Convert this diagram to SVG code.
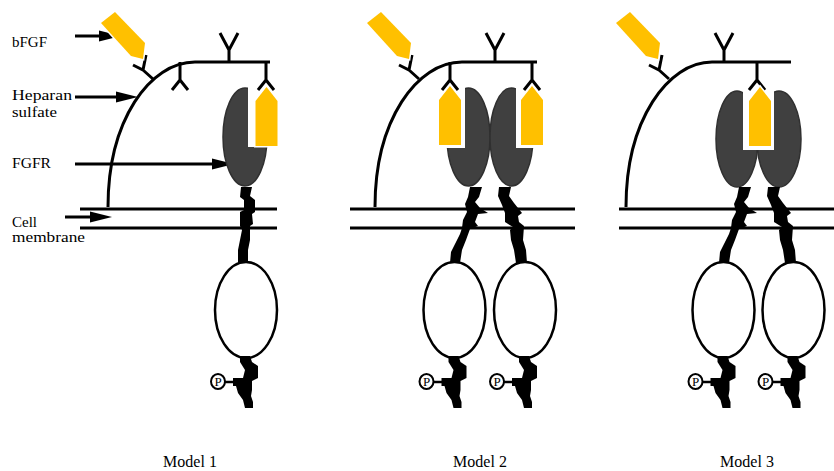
<svg xmlns="http://www.w3.org/2000/svg" width="834" height="471" viewBox="0 0 834 471">
  <style>
    .ln { fill: none; stroke: #000; stroke-width: 3; stroke-linejoin: miter; }
    .mem { stroke: #000; stroke-width: 3; }
    .fgf { fill: #FFC000; stroke: #fff; stroke-width: 3; paint-order: stroke; }
    .rcp { fill: #404040; stroke: #303030; stroke-width: 1.5; }
    .cut { fill: #fff; }
    .cyto { fill: #fff; stroke: #000; stroke-width: 2.5; }
    .chain { fill: #000; }
    .pc { fill: #fff; stroke: #000; stroke-width: 2; }
    .plink { stroke: #000; stroke-width: 2.5; }
    .ptxt { font-family: "Liberation Serif", serif; font-size: 13px; fill: #000; text-anchor: middle; }
    .lbl { font-family: "Liberation Serif", serif; font-size: 15px; fill: #000; }
    .mdl { font-family: "Liberation Serif", serif; font-size: 16px; fill: #000; text-anchor: middle; }
    .arr { fill: none; stroke: #000; stroke-width: 3; }
  </style>
  <defs>
    <marker id="head" markerUnits="userSpaceOnUse" markerWidth="24" markerHeight="12" refX="12" refY="6" orient="auto">
      <path d="M0,0.5 L22,6 L0,11.5 z" fill="#000"/>
    </marker>
    <!-- heparan sulfate side chains -->
    <path id="y-up" class="ln" d="M-9,-29 L0,-12 L9,-29 M0,-12 V0"/>
    <path id="y-down" class="ln" d="M0,0 V18 M-8,28 L0,18 L8,28"/>
    <path id="y-side" class="ln" d="M133,65 L143,70 L146,55 M143,70 L153,79"/>
    <!-- bFGF: free and bound -->
    <polygon id="fgf-free" class="fgf" points="101,23 115,12 145,43 143,59 131,56"/>
    <polygon id="fgf-up" class="fgf" points="0,-14 11,0 11,45 -11,45 -11,0"/>
    <!-- intracellular kinase domain with phosphorylated tail -->
    <g id="cyto">
      <ellipse class="cyto" cx="0" cy="310" rx="31" ry="48"/>
      <polygon class="chain" points="-6,356 4,356 6,362 12,366 12,378 6,381 6,390 5,396 7,402 7,408 -1,408 -3,400 -8,393 -10,386 -13,386 -13,378 -3,378 -1,370 -6,362"/>
      <line class="plink" x1="-21" y1="382" x2="-12" y2="382"/>
      <ellipse class="pc" cx="-28" cy="381.5" rx="7" ry="7.5"/>
      <text class="ptxt" x="-28" y="386">P</text>
    </g>
    <!-- transmembrane segments of a dimer -->
    <g id="tm-pair">
      <polygon class="chain" points="482,187 479,197 475,202 480,208 488,213 478,214 475,222 478,226 470,229 466,240 462,250 460,263 450,263 451,252 455,244 460,234 462,228 463,220 467,212 465,204 468,197 470,187"/>
      <polygon class="chain" points="511,187 509,196 514,203 522,213 518,216 519,222 524,226 523,240 526,250 527,263 516,263 514,250 511,240 510,230 513,227 505,222 505,213 502,205 498,196 499,187"/>
    </g>
  </defs>

  <!-- label pointers -->
  <g id="connectors">
    <path class="arr" d="M75,36 H111" marker-end="url(#head)"/>
    <path class="arr" d="M75,97 H128" marker-end="url(#head)"/>
    <path class="arr" d="M75,164 H224" marker-end="url(#head)"/>
    <path class="arr" d="M65,217 H102" marker-end="url(#head)"/>
  </g>

  <g id="labels">
    <text class="lbl" x="12" y="46.5">bFGF</text>
    <text class="lbl" x="12" y="100" textLength="60" lengthAdjust="spacingAndGlyphs">Heparan</text>
    <text class="lbl" x="12" y="117" textLength="45" lengthAdjust="spacingAndGlyphs">sulfate</text>
    <text class="lbl" x="12" y="168" textLength="39" lengthAdjust="spacingAndGlyphs">FGFR</text>
    <text class="lbl" x="12" y="227">Cell</text>
    <text class="lbl" x="12" y="241.5" textLength="73" lengthAdjust="spacingAndGlyphs">membrane</text>
  </g>

  <!-- Model 1: monomeric receptor -->
  <g id="model1">
    <g id="m1-membrane">
      <line class="mem" x1="80" y1="209" x2="277" y2="209"/>
      <line class="mem" x1="80" y1="228" x2="277" y2="228"/>
    </g>
    <g id="m1-heparan">
      <path class="ln" d="M108,207 C108,120 150,62 195,62 H270"/>
      <use href="#y-up" x="229" y="62"/>
      <use href="#y-down" x="180" y="62"/>
      <use href="#y-side"/>
    </g>
    <g id="m1-receptor">
      <ellipse class="rcp" cx="245" cy="137" rx="22" ry="49"/>
      <rect class="cut" x="248" y="80" width="35" height="67"/>
      <polygon class="chain" points="241,187 252,187 250,196 255,200 255,212 252,214 253,224 250,226 250,240 248,250 248,263 238,263 238,250 240,240 242,230 240,226 240,212 244,210 244,200 240,197"/>
      <use href="#cyto" x="246"/>
    </g>
    <g id="m1-fgf">
      <use href="#y-down" x="266" y="62"/>
      <use href="#fgf-up" x="266.5" y="101"/>
      <use href="#fgf-free"/>
    </g>
    <text class="mdl" x="190" y="467">Model 1</text>
  </g>

  <!-- Model 2: dimer, one bFGF per receptor -->
  <g id="model2">
    <g id="m2-membrane">
      <line class="mem" x1="350" y1="209" x2="575" y2="209"/>
      <line class="mem" x1="350" y1="228" x2="575" y2="228"/>
    </g>
    <g id="m2-heparan">
      <path class="ln" d="M375,207 C375,120 417,62 462,62 H537"/>
      <use href="#y-up" x="495" y="62"/>
      <use href="#y-side" x="266"/>
    </g>
    <g id="m2-receptors">
      <ellipse class="rcp" cx="468.5" cy="137" rx="21.5" ry="49"/>
      <ellipse class="rcp" cx="511.5" cy="137" rx="21.5" ry="49"/>
      <rect class="cut" x="435" y="80" width="30" height="68"/>
      <rect class="cut" x="516" y="80" width="31" height="68"/>
      <use href="#tm-pair"/>
      <use href="#cyto" x="454.5"/>
      <use href="#cyto" x="525"/>
    </g>
    <g id="m2-fgf">
      <use href="#y-down" x="450" y="62"/>
      <use href="#y-down" x="532" y="62"/>
      <use href="#fgf-up" x="450" y="100"/>
      <use href="#fgf-up" x="532" y="100"/>
      <use href="#fgf-free" x="266"/>
    </g>
    <text class="mdl" x="480" y="467">Model 2</text>
  </g>

  <!-- Model 3: dimer sharing one bFGF -->
  <g id="model3">
    <g id="m3-membrane">
      <line class="mem" x1="619" y1="209" x2="834" y2="209"/>
      <line class="mem" x1="619" y1="228" x2="834" y2="228"/>
    </g>
    <g id="m3-heparan">
      <path class="ln" d="M626,207 C626,120 668,62 712,62 H791"/>
      <use href="#y-up" x="724" y="62"/>
      <use href="#y-side" x="516"/>
    </g>
    <g id="m3-receptors">
      <ellipse class="rcp" cx="737" cy="139" rx="21" ry="48"/>
      <ellipse class="rcp" cx="779" cy="139" rx="22" ry="48"/>
      <rect class="cut" x="743" y="80" width="31" height="70"/>
      <use href="#tm-pair" x="269"/>
      <use href="#cyto" x="723.5"/>
      <use href="#cyto" x="793.5"/>
    </g>
    <g id="m3-fgf">
      <use href="#y-down" x="757" y="62"/>
      <use href="#fgf-up" x="760" y="101"/>
      <use href="#fgf-free" x="515"/>
    </g>
    <text class="mdl" x="747" y="467">Model 3</text>
  </g>
</svg>
